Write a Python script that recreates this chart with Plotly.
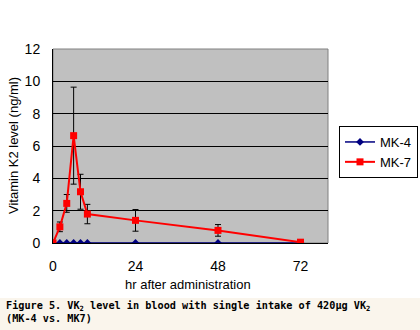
import plotly.graph_objects as go

hours = [0, 2, 4, 6, 8, 10, 24, 48, 72]
mk4 = [0, 0, 0, 0, 0, 0, 0, 0, 0]
mk7 = [0.0, 1.0, 2.45, 6.64, 3.17, 1.79, 1.40, 0.78, 0.05]
mk7_err = [0.0, 0.3, 0.55, 3.0, 1.08, 0.6, 0.67, 0.36, 0.0]
x_ticks = [0, 24, 48, 72]
y_ticks = [0, 2, 4, 6, 8, 10, 12]

W, H = 420, 330
L, R, T, B = 53, 92, 49, 87
pw, ph = W - L - R, H - T - B

def px(x):
    return (x - L) / pw

def py(y):
    return (H - B - y) / ph

fig = go.Figure()
fig.add_trace(go.Scatter(
    x=hours, y=mk4, name="MK-4", mode="lines+markers",
    line=dict(color="#000080", width=1.5),
    marker=dict(symbol="diamond", size=6, color="#000080"),
))
fig.add_trace(go.Scatter(
    x=hours, y=mk7, name="MK-7", mode="lines+markers",
    line=dict(color="#FF0000", width=2),
    marker=dict(symbol="square", size=7, color="#FF0000"),
    error_y=dict(type="data", array=mk7_err, visible=True,
                 color="black", thickness=1, width=3),
))

fig.update_layout(
    width=W, height=H,
    margin=dict(l=L, r=R, t=T, b=B, autoexpand=False),
    paper_bgcolor="white",
    plot_bgcolor="#C0C0C0",
    font=dict(family="Liberation Sans, Arial, sans-serif", size=13, color="black"),
    showlegend=True,
    legend=dict(
        x=px(418), y=py(126), xanchor="right", yanchor="top",
        bgcolor="white", bordercolor="black", borderwidth=1,
        font=dict(size=13), itemwidth=30, tracegroupgap=0,
    ),
)
fig.update_xaxes(
    range=[0, 80], tickvals=x_ticks, showgrid=False, zeroline=False,
    showline=True, linecolor="black", linewidth=1,
    ticks="outside", ticklen=10, tickcolor="rgba(0,0,0,0)",
    tickfont=dict(size=14), automargin=False,
)
fig.update_yaxes(
    range=[0, 12], tickvals=y_ticks, showgrid=True, gridcolor="black",
    gridwidth=1, zeroline=False,
    showline=True, linecolor="black", linewidth=1,
    ticks="outside", ticklen=9, tickcolor="rgba(0,0,0,0)",
    tickfont=dict(size=14), automargin=False,
)

# plot area border (gray top/right)
fig.add_shape(type="rect", xref="paper", yref="paper", x0=0, x1=1, y0=0, y1=1,
              line=dict(color="#808080", width=1), layer="below")

# caption background
fig.add_shape(type="rect", xref="paper", yref="paper",
              x0=px(-20), x1=px(W + 40), y0=py(298), y1=py(H + 20),
              fillcolor="#FAF5EC", line=dict(width=0), layer="below")

fig.add_annotation(
    text="hr after administration", xref="paper", yref="paper",
    x=px(188), y=py(284), showarrow=False, xanchor="center", yanchor="middle",
    font=dict(size=13),
)
fig.add_annotation(
    text="Vitamin K2 level (ng/ml)", xref="paper", yref="paper",
    x=px(13), y=py(146), showarrow=False, textangle=-90,
    xanchor="center", yanchor="middle", font=dict(size=13),
)
cap_font = dict(family="DejaVu Sans Mono, monospace", size=10.2, color="black")
fig.add_annotation(
    text="<b>Figure 5. VK<sub>2</sub> level in blood with single intake of 420μg VK<sub>2</sub></b>",
    xref="paper", yref="paper", x=px(4), y=py(306), showarrow=False,
    xanchor="left", yanchor="middle", align="left", font=cap_font,
)
fig.add_annotation(
    text="<b>(MK-4 vs. MK7)</b>",
    xref="paper", yref="paper", x=px(4), y=py(318), showarrow=False,
    xanchor="left", yanchor="middle", align="left", font=cap_font,
)

fig.write_html("out.html")
